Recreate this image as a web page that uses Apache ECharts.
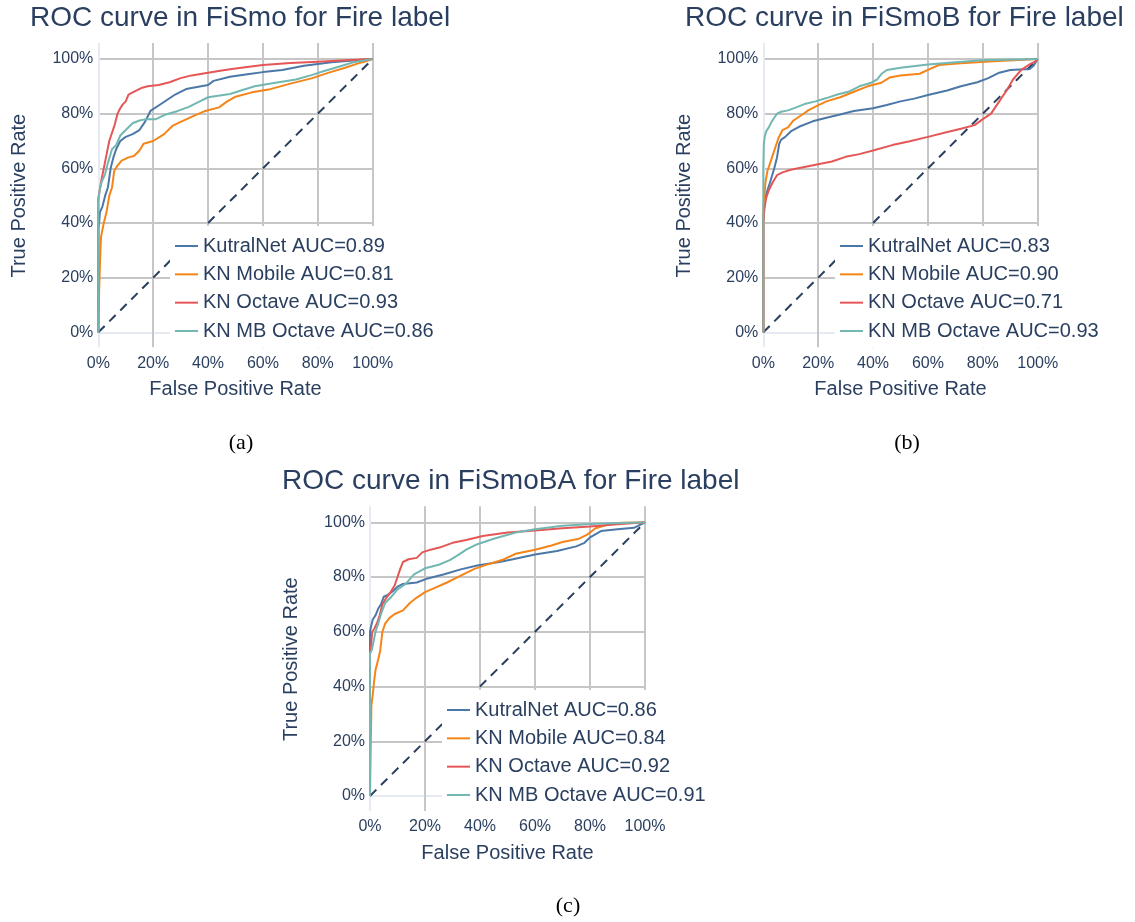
<!DOCTYPE html>
<html>
<head>
<meta charset="utf-8">
<script src="https://cdn.jsdelivr.net/npm/echarts@6/dist/echarts.min.js"></script>
<style>
html,body{margin:0;padding:0;background:#fff;}
#chart{width:1135px;height:922px;}
</style>
</head>
<body>
<div id="chart"></div>
<script>
// ---------------- DATA ----------------
const panelTitles = ['ROC curve in FiSmo for Fire label', 'ROC curve in FiSmoB for Fire label', 'ROC curve in FiSmoBA for Fire label'];
const captions = ['(a)', '(b)', '(c)'];
const modelNames = ['KutralNet', 'KN Mobile', 'KN Octave', 'KN MB Octave'];
const aucFiSmo = [0.89, 0.81, 0.93, 0.86];
const aucFiSmoB = [0.83, 0.90, 0.71, 0.93];
const aucFiSmoBA = [0.86, 0.84, 0.92, 0.91];
const tickValues = [0, 0.2, 0.4, 0.6, 0.8, 1];
const chanceLine = [[0, 0], [1, 1]];

// FiSmo (a)  [FPR, TPR]
const fismoKutralNet = [[0,0],[0,0.38],[0.003,0.4],[0.006,0.44],[0.015,0.46],[0.025,0.5],[0.035,0.53],[0.045,0.6],[0.055,0.64],[0.065,0.67],[0.08,0.7],[0.1,0.715],[0.125,0.725],[0.15,0.74],[0.17,0.77],[0.19,0.81],[0.22,0.83],[0.25,0.85],[0.28,0.87],[0.32,0.89],[0.4,0.905],[0.42,0.92],[0.48,0.935],[0.55,0.945],[0.6,0.952],[0.67,0.96],[0.75,0.975],[0.85,0.988],[0.94,0.995],[1,1]];
const fismoMobile = [[0,0],[0.003,0.15],[0.006,0.25],[0.01,0.35],[0.02,0.4],[0.03,0.44],[0.04,0.5],[0.05,0.53],[0.058,0.59],[0.07,0.61],[0.085,0.628],[0.11,0.64],[0.13,0.645],[0.15,0.665],[0.165,0.69],[0.2,0.7],[0.24,0.725],[0.27,0.755],[0.3,0.77],[0.35,0.793],[0.39,0.81],[0.44,0.823],[0.47,0.845],[0.5,0.862],[0.56,0.878],[0.62,0.888],[0.7,0.91],[0.78,0.93],[0.84,0.95],[0.9,0.968],[0.95,0.985],[0.97,0.99],[1,1]];
const fismoOctave = [[0,0],[0,0.49],[0.005,0.52],[0.012,0.56],[0.02,0.6],[0.03,0.65],[0.04,0.7],[0.05,0.73],[0.06,0.76],[0.07,0.8],[0.08,0.82],[0.09,0.835],[0.1,0.845],[0.11,0.87],[0.12,0.875],[0.14,0.885],[0.16,0.895],[0.18,0.9],[0.22,0.905],[0.26,0.915],[0.3,0.93],[0.34,0.94],[0.4,0.95],[0.45,0.958],[0.5,0.965],[0.6,0.978],[0.7,0.985],[0.8,0.99],[0.9,0.995],[1,1]];
const fismoMbOctave = [[0,0],[0,0.48],[0.005,0.52],[0.012,0.55],[0.025,0.58],[0.035,0.62],[0.05,0.67],[0.065,0.685],[0.08,0.72],[0.1,0.74],[0.125,0.765],[0.15,0.775],[0.175,0.78],[0.21,0.78],[0.24,0.795],[0.29,0.81],[0.33,0.825],[0.37,0.845],[0.4,0.86],[0.48,0.872],[0.52,0.885],[0.57,0.9],[0.64,0.912],[0.72,0.925],[0.78,0.942],[0.82,0.955],[0.87,0.97],[0.93,0.988],[1,1]];

// FiSmoB (b)
const fismobKutralNet = [[0,0],[0,0.42],[0.005,0.48],[0.012,0.51],[0.025,0.55],[0.04,0.6],[0.05,0.64],[0.058,0.69],[0.065,0.705],[0.08,0.715],[0.1,0.735],[0.13,0.752],[0.18,0.772],[0.23,0.785],[0.28,0.797],[0.33,0.81],[0.4,0.82],[0.45,0.832],[0.5,0.845],[0.55,0.855],[0.6,0.868],[0.67,0.885],[0.72,0.9],[0.78,0.915],[0.82,0.93],[0.86,0.95],[0.9,0.96],[0.97,0.963],[0.985,0.975],[1,1]];
const fismobMobile = [[0,0],[0,0.45],[0.004,0.5],[0.008,0.55],[0.015,0.59],[0.025,0.62],[0.035,0.65],[0.045,0.68],[0.055,0.71],[0.07,0.74],[0.09,0.75],[0.11,0.775],[0.14,0.795],[0.165,0.813],[0.19,0.826],[0.23,0.845],[0.28,0.86],[0.33,0.88],[0.38,0.9],[0.43,0.913],[0.46,0.932],[0.5,0.94],[0.57,0.946],[0.6,0.96],[0.64,0.978],[0.72,0.984],[0.84,0.992],[0.95,0.997],[1,1]];
const fismobOctave = [[0,0],[0,0.4],[0.004,0.45],[0.01,0.49],[0.02,0.52],[0.035,0.55],[0.05,0.575],[0.07,0.585],[0.1,0.595],[0.15,0.605],[0.2,0.615],[0.25,0.625],[0.3,0.642],[0.35,0.652],[0.4,0.665],[0.47,0.685],[0.53,0.698],[0.6,0.715],[0.66,0.73],[0.72,0.745],[0.77,0.758],[0.8,0.78],[0.83,0.8],[0.86,0.845],[0.89,0.89],[0.91,0.925],[0.94,0.96],[0.97,0.98],[0.99,0.99],[1,1]];
const fismobMbOctave = [[0,0],[0,0.6],[0.002,0.69],[0.006,0.72],[0.012,0.738],[0.02,0.75],[0.03,0.77],[0.04,0.785],[0.05,0.8],[0.065,0.807],[0.09,0.812],[0.12,0.823],[0.15,0.835],[0.19,0.845],[0.23,0.857],[0.27,0.87],[0.31,0.88],[0.35,0.9],[0.39,0.912],[0.415,0.925],[0.43,0.945],[0.45,0.96],[0.5,0.968],[0.6,0.98],[0.7,0.988],[0.8,0.995],[1,1]];

// FiSmoBA (c)
const fismobaKutralNet = [[0,0],[0,0.6],[0.004,0.62],[0.01,0.645],[0.02,0.66],[0.03,0.685],[0.04,0.7],[0.05,0.728],[0.065,0.735],[0.085,0.75],[0.1,0.765],[0.12,0.775],[0.17,0.78],[0.21,0.795],[0.27,0.81],[0.33,0.828],[0.39,0.842],[0.47,0.855],[0.52,0.865],[0.6,0.882],[0.68,0.895],[0.75,0.912],[0.78,0.925],[0.8,0.945],[0.84,0.968],[0.9,0.975],[0.96,0.98],[0.98,0.99],[1,1]];
const fismobaMobile = [[0,0],[0.005,0.33],[0.01,0.37],[0.015,0.42],[0.02,0.46],[0.03,0.5],[0.037,0.53],[0.045,0.6],[0.055,0.63],[0.07,0.65],[0.09,0.665],[0.12,0.678],[0.145,0.705],[0.17,0.725],[0.2,0.745],[0.24,0.762],[0.28,0.78],[0.33,0.805],[0.38,0.83],[0.43,0.847],[0.48,0.862],[0.53,0.885],[0.6,0.9],[0.66,0.915],[0.7,0.928],[0.76,0.94],[0.79,0.955],[0.82,0.978],[0.86,0.99],[0.91,0.998],[1,1]];
const fismobaOctave = [[0,0],[0,0.52],[0.004,0.55],[0.008,0.6],[0.015,0.61],[0.025,0.63],[0.035,0.66],[0.045,0.7],[0.06,0.725],[0.075,0.745],[0.09,0.77],[0.1,0.8],[0.11,0.83],[0.12,0.855],[0.14,0.865],[0.17,0.87],[0.19,0.89],[0.22,0.9],[0.26,0.91],[0.3,0.925],[0.35,0.935],[0.41,0.95],[0.5,0.963],[0.6,0.97],[0.7,0.978],[0.8,0.985],[0.9,0.993],[1,1]];
const fismobaMbOctave = [[0,0],[0,0.52],[0.007,0.535],[0.013,0.565],[0.02,0.6],[0.03,0.63],[0.04,0.665],[0.055,0.705],[0.075,0.725],[0.1,0.755],[0.13,0.775],[0.16,0.81],[0.2,0.832],[0.25,0.845],[0.29,0.862],[0.32,0.88],[0.35,0.9],[0.39,0.92],[0.45,0.94],[0.53,0.963],[0.6,0.975],[0.7,0.987],[0.82,0.995],[1,1]];

// ---------------- LAYOUT / STYLE ----------------
const colors = ['#4C78A8', '#F58518', '#E45756', '#72B7B2'];
const textColor = '#2a3f5f';
const gridColor = '#c6c6c6';
const zeroColor = '#e6ebf3';
const sansFont = '"Liberation Sans", Arial, sans-serif';

const panels = [
  { curves: [fismoKutralNet, fismoMobile, fismoOctave, fismoMbOctave], auc: aucFiSmo,
    x0: 98.3, top: 59, w: 274.4, h: 273.3, titleLeft: 30, titleTop: 2.5, legendLeft: 170, legendTop: 226, capX: 241, capY: 443 },
  { curves: [fismobKutralNet, fismobMobile, fismobOctave, fismobMbOctave], auc: aucFiSmoB,
    x0: 763.3, top: 59, w: 274.4, h: 273.3, titleLeft: 685, titleTop: 2.5, legendLeft: 835, legendTop: 226, capX: 907, capY: 443 },
  { curves: [fismobaKutralNet, fismobaMobile, fismobaOctave, fismobaMbOctave], auc: aucFiSmoBA,
    x0: 370, top: 522.3, w: 275, h: 273.7, titleLeft: 282, titleTop: 465, legendLeft: 442, legendTop: 690, capX: 568, capY: 906 }
];

const pct = v => Math.round(v * 100) + '%';
const lineColorsFor = () => tickValues.map((t, i) => i === 0 ? zeroColor : gridColor);

const option = { animation: false, backgroundColor: '#fff', title: [], grid: [], xAxis: [], yAxis: [], series: [], legend: [], graphic: [] };

panels.forEach((p, k) => {
  const gMain = 2 * k, gExt = 2 * k + 1;
  option.title.push({ text: panelTitles[k], left: p.titleLeft, top: p.titleTop, padding: 0,
    textStyle: { fontFamily: sansFont, fontSize: 28, fontWeight: 'normal', color: textColor, lineHeight: 32 } });
  option.grid.push({ left: p.x0, top: p.top, width: p.w, height: p.h, containLabel: false });
  option.grid.push({ left: p.x0, top: p.top - 16, width: p.w, height: p.h + 31, containLabel: false });
  // main axes
  option.xAxis.push({ gridIndex: gMain, type: 'value', min: 0, max: 1, interval: 0.2,
    axisLine: { show: false }, axisTick: { show: false }, axisLabel: { show: false }, splitLine: { show: false } });
  option.yAxis.push({ gridIndex: gMain, type: 'value', min: 0, max: 1, interval: 0.2,
    axisLine: { show: false }, axisTick: { show: false },
    axisLabel: { formatter: pct, margin: 5, fontSize: 16, fontFamily: sansFont, color: textColor },
    splitLine: { show: true, lineStyle: { color: lineColorsFor(), width: 2 } },
    name: 'True Positive Rate', nameLocation: 'middle', nameRotate: 90, nameGap: 69,
    nameTextStyle: { fontSize: 20, fontFamily: sansFont, color: textColor, lineHeight: 20 } });
  // extension axes (vertical grid lines + x labels)
  option.xAxis.push({ gridIndex: gExt, type: 'value', min: 0, max: 1, interval: 0.2,
    axisLine: { show: false }, axisTick: { show: false },
    axisLabel: { formatter: pct, margin: 8, fontSize: 16, fontFamily: sansFont, color: textColor },
    splitLine: { show: true, lineStyle: { color: lineColorsFor(), width: 2 } },
    name: 'False Positive Rate', nameLocation: 'middle', nameGap: 32,
    nameTextStyle: { fontSize: 20, fontFamily: sansFont, color: textColor, lineHeight: 20 } });
  option.yAxis.push({ gridIndex: gExt, type: 'value', min: 0, max: 1, show: false });

  option.series.push({ type: 'line', xAxisIndex: gMain, yAxisIndex: gMain, data: chanceLine, showSymbol: false, silent: true,
    lineStyle: { color: textColor, width: 2, type: [9, 6.5] }, z: 1 });
  const names = [];
  p.curves.forEach((c, i) => {
    const name = modelNames[i] + ' AUC=' + p.auc[i].toFixed(2);
    names.push(name);
    option.series.push({ type: 'line', name: name, xAxisIndex: gMain, yAxisIndex: gMain, data: c,
      showSymbol: false, symbol: 'none', lineStyle: { color: colors[i], width: 2 }, itemStyle: { color: colors[i] }, z: 2 });
  });
  option.legend.push({ data: names, orient: 'vertical', left: p.legendLeft, top: p.legendTop,
    padding: [10, 6, 6, 5], itemGap: 8.33, itemWidth: 23, itemHeight: 2, icon: 'rect', selectedMode: false,
    backgroundColor: '#ffffff',
    textStyle: { fontSize: 20, fontFamily: sansFont, color: textColor, lineHeight: 20 } });
  option.graphic.push({ type: 'text', x: p.capX, y: p.capY,
    style: { text: captions[k], font: '22px "Liberation Serif", "Times New Roman", serif', fill: '#000', align: 'center', verticalAlign: 'middle' } });
});

const chart = echarts.init(document.getElementById('chart'), null, { renderer: 'canvas' });
chart.setOption(option);
</script>
</body>
</html>
